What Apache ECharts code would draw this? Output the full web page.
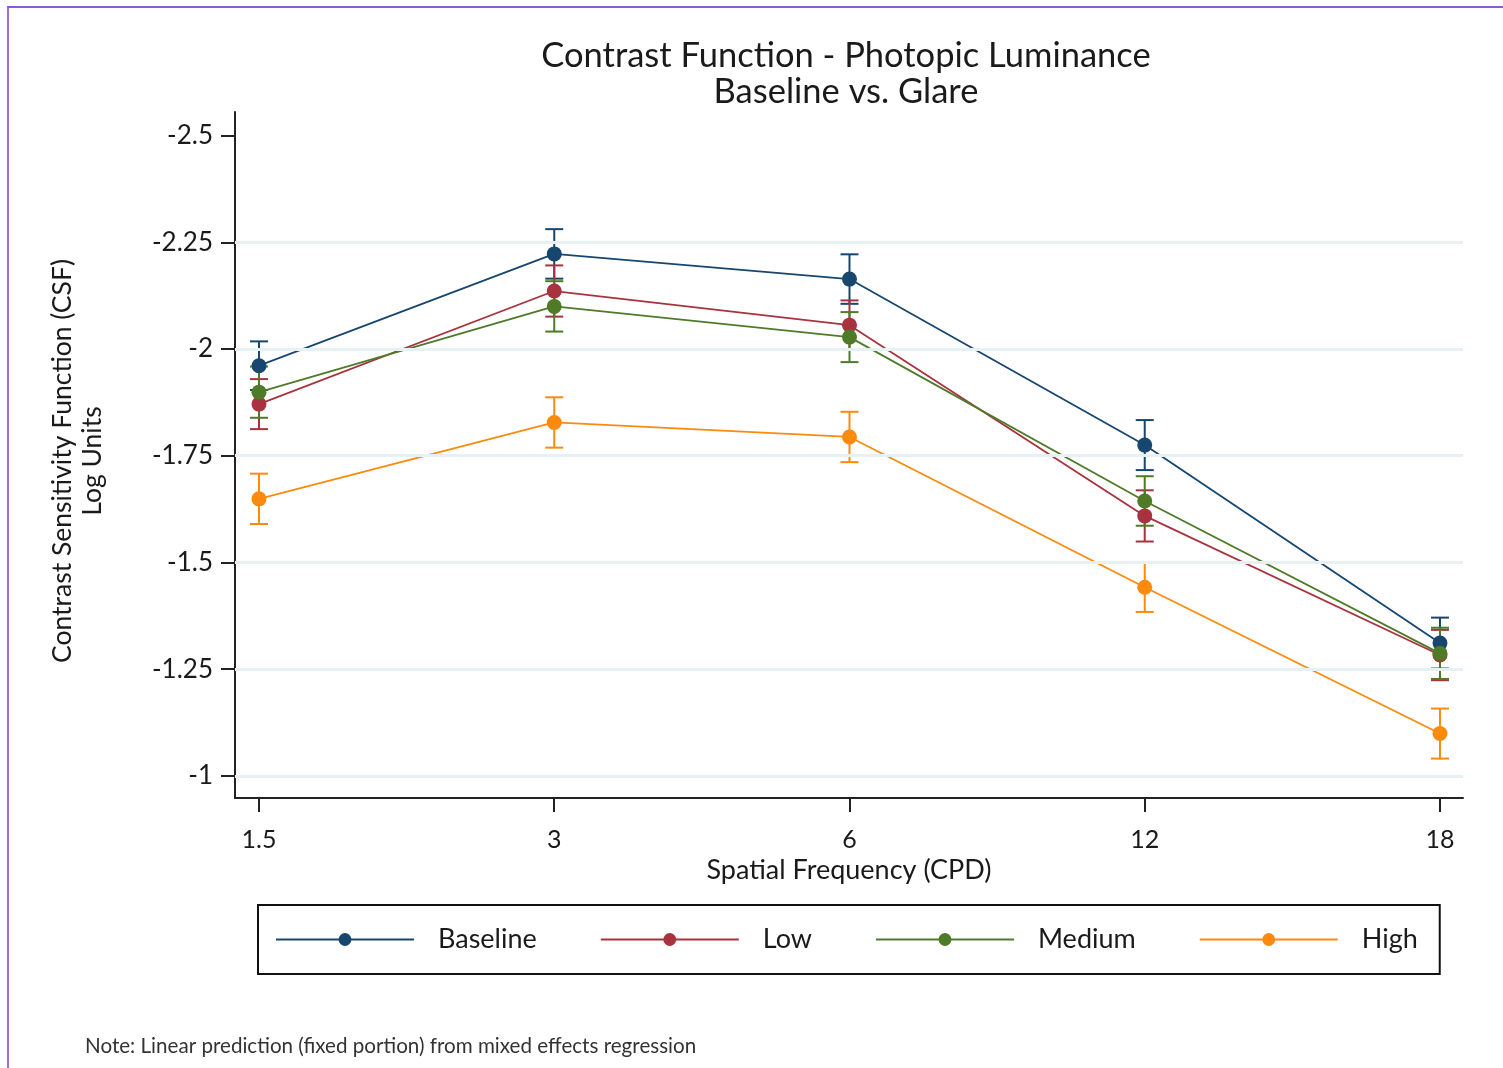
<!DOCTYPE html>
<html>
<head>
<meta charset="utf-8">
<script src="https://cdn.jsdelivr.net/npm/echarts@6/dist/echarts.min.js"></script>
<style>
  html, body { margin: 0; padding: 0; background: #fff; }
  #wrap { position: relative; width: 1503px; height: 1068px; overflow: hidden; }
  #chart { width: 1503px; height: 1068px; }
  #frame { position: absolute; left: 7px; top: 6px; width: 1500px; height: 1070px;
           border-top: 2px solid #8c5ccc; border-left: 2px solid #9a70d8; pointer-events: none; }
</style>
</head>
<body>
<div id="wrap"><div id="chart"></div><div id="frame"></div></div>
<script>
const categories = ['1.5', '3', '6', '12', '18'];
const seriesNames = ['Baseline', 'Low', 'Medium', 'High'];
const baseline = [-1.961, -2.223, -2.164, -1.775, -1.311];
const low      = [-1.871, -2.136, -2.056, -1.609, -1.283];
const medium   = [-1.899, -2.100, -2.028, -1.644, -1.287];
const high     = [-1.649, -1.828, -1.794, -1.442, -1.099];
const baselineErr = [0.057, 0.058, 0.058, 0.0586, 0.0597];
const lowErr      = [0.0586, 0.060, 0.058, 0.060, 0.059];
const mediumErr   = [0.060, 0.059, 0.0586, 0.058, 0.060];
const highErr     = [0.059, 0.059, 0.059, 0.058, 0.0586];
const yTicks = [-2.5, -2.25, -2, -1.75, -1.5, -1.25, -1];
const gridLineValues = [-2.25, -2, -1.75, -1.5, -1.25, -1];

const colors = ['#17466f', '#a8323e', '#4f7a28', '#fb8a0e'];
const values = [baseline, low, medium, high];
const errs = [baselineErr, lowErr, mediumErr, highErr];
const FONT = 'Lato';

const chart = echarts.init(document.getElementById('chart'), null, { renderer: 'canvas' });

const series = [];
series.push({
  name: '_grid', type: 'line', data: [], silent: true, z: 0,
  markLine: {
    silent: true, symbol: ['none', 'none'], label: { show: false },
    lineStyle: { color: '#e7f0f2', width: 3, type: 'solid' },
    emphasis: { disabled: true },
    data: gridLineValues.map(v => ({ yAxis: v }))
  }
});
seriesNames.forEach((name, k) => {
  series.push({
    name: name + ' CI', type: 'custom', z: 3,
    data: values[k].map((v, i) => [i, v, errs[k][i]]),
    encode: { x: 0, y: 1 },
    renderItem: function (params, api) {
      const x = api.value(0), v = api.value(1), e = api.value(2);
      const p1 = api.coord([x, v - e]);
      const p2 = api.coord([x, v + e]);
      const hw = 9;
      const st = { stroke: colors[k], lineWidth: 2 };
      return {
        type: 'group',
        children: [
          { type: 'line', shape: { x1: p1[0], y1: p1[1], x2: p2[0], y2: p2[1] }, style: st },
          { type: 'line', shape: { x1: p1[0] - hw, y1: p1[1], x2: p1[0] + hw, y2: p1[1] }, style: st },
          { type: 'line', shape: { x1: p2[0] - hw, y1: p2[1], x2: p2[0] + hw, y2: p2[1] }, style: st }
        ]
      };
    }
  });
  series.push({
    name: name, type: 'line', z: 4,
    data: values[k].map((v, i) => [i, v]),
    symbol: 'circle', symbolSize: 15, showSymbol: true,
    lineStyle: { color: colors[k], width: 1.8 },
    itemStyle: { color: colors[k] },
    emphasis: { disabled: true }
  });
});

const option = {
  animation: false,
  backgroundColor: '#ffffff',
  textStyle: { fontFamily: FONT },
  graphic: [
    { type: 'text', left: 846 - 400, top: 38, style: { text: 'Contrast Function - Photopic Luminance\nBaseline vs. Glare',
      x: 400, textAlign: 'center', font: '34.5px ' + FONT, fill: '#1a1a1a', lineHeight: 36, width: 800 } },
    { type: 'text', left: 85, top: 1036, style: { text: 'Note: Linear prediction (fixed portion) from mixed effects regression',
      font: '20.6px ' + FONT, fill: '#333' } }
  ],
  grid: { left: 235, right: 40, top: 112, bottom: 270, containLabel: false },
  xAxis: {
    type: 'value', min: -0.0813, max: 4.078,
    name: 'Spatial Frequency (CPD)', nameLocation: 'middle', nameGap: 56,
    nameTextStyle: { fontSize: 27, color: '#1a1a1a', fontFamily: FONT },
    axisLine: { show: true, onZero: false, lineStyle: { color: '#222', width: 2 } },
    axisTick: { show: true, length: 14, lineStyle: { color: '#222', width: 2 }, customValues: [0, 1, 2, 3, 4] },
    axisLabel: { customValues: [0, 1, 2, 3, 4], formatter: v => categories[Math.round(v)], fontSize: 25, color: '#1a1a1a', margin: 29, fontFamily: FONT },
    splitLine: { show: false }
  },
  yAxis: {
    type: 'value', inverse: true, min: -2.5555, max: -0.948,
    name: 'Contrast Sensitivity Function (CSF)\nLog Units', nameLocation: 'middle', nameGap: 128, nameRotate: 90,
    nameTextStyle: { fontSize: 26.5, color: '#1a1a1a', lineHeight: 30, fontFamily: FONT, padding: [0, 12, 0, 0] },
    axisLine: { show: true, onZero: false, lineStyle: { color: '#222', width: 2 } },
    axisTick: { show: true, length: 14, lineStyle: { color: '#222', width: 2 }, customValues: yTicks },
    axisLabel: { customValues: yTicks, fontSize: 26, color: '#1a1a1a', margin: 22, fontFamily: FONT },
    splitLine: { show: false }
  },
  legend: {
    data: seriesNames, left: 258, top: 905, orient: 'horizontal',
    itemWidth: 138, itemHeight: 16, itemGap: 63,
    padding: [21, 22, 21, 17],
    borderColor: '#111', borderWidth: 2,
    textStyle: { fontSize: 27, color: '#1a1a1a', fontFamily: FONT, padding: [0, 0, 0, 19] },
    selectedMode: false
  },
  series: series
};
chart.setOption(option);
</script>
</body>
</html>
